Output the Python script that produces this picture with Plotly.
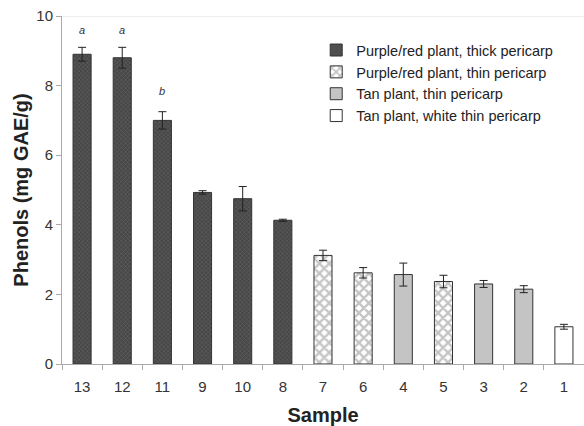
import plotly.graph_objects as go

samples = ["13", "12", "11", "9", "10", "8", "7", "6", "4", "5", "3", "2", "1"]
phenols = [8.9, 8.8, 7.0, 4.93, 4.75, 4.13, 3.12, 2.62, 2.57, 2.37, 2.3, 2.15, 1.07]
errors = [0.2, 0.3, 0.25, 0.05, 0.35, 0.03, 0.15, 0.15, 0.33, 0.18, 0.1, 0.1, 0.07]
groups = ["thick", "thick", "thick", "thick", "thick", "thick",
          "pthin", "pthin", "tan", "pthin", "tan", "tan", "white"]
sig_samples = ["13", "12", "11"]
sig_letters = ["a", "a", "b"]
sig_y = [9.6, 9.6, 7.85]

group_names = {
    "thick": "Purple/red plant, thick pericarp",
    "pthin": "Purple/red plant, thin pericarp",
    "tan": "Tan plant, thin pericarp",
    "white": "Tan plant, white thin pericarp",
}
group_styles = {
    "thick": dict(color="#474747", pattern=dict(shape="x", fgcolor="#858585", size=3, solidity=0.3)),
    "pthin": dict(color="white", pattern=dict(shape="x", fgcolor="#8a8a8a", bgcolor="white", size=7, solidity=0.55)),
    "tan": dict(color="#c4c4c4"),
    "white": dict(color="white"),
}

fig = go.Figure()
for g in ["thick", "pthin", "tan", "white"]:
    xs = [s for s, gg in zip(samples, groups) if gg == g]
    ys = [v for v, gg in zip(phenols, groups) if gg == g]
    es = [e for e, gg in zip(errors, groups) if gg == g]
    fig.add_trace(go.Bar(
        x=xs, y=ys, name=group_names[g], width=0.45,
        marker=dict(line=dict(color="#333333", width=1), **group_styles[g]),
        error_y=dict(type="data", array=es, color="#222222", thickness=1, width=4),
    ))

for s, t, y in zip(sig_samples, sig_letters, sig_y):
    fig.add_annotation(x=samples.index(s), y=y, text=f"<i>{t}</i>", showarrow=False,
                       font=dict(size=11, color="#333333"))

fig.add_shape(type="line", xref="paper", yref="y", x0=0, x1=1, y0=10, y1=10,
              line=dict(color="#dddddd", width=1))

fig.update_layout(
    width=584, height=426,
    margin=dict(l=62, r=0, t=16, b=62),
    plot_bgcolor="white", paper_bgcolor="white",
    barmode="overlay",
    font=dict(family="Liberation Sans, Arial", size=15, color="#333333"),
    showlegend=True,
    legend=dict(x=0.487, y=0.948, xanchor="left", yanchor="top",
                font=dict(size=14.5, color="#222222"), tracegroupgap=0,
                itemwidth=30, bgcolor="rgba(0,0,0,0)", traceorder="normal"),
    xaxis=dict(type="category", categoryorder="array", categoryarray=samples,
               title=dict(text="<b>Sample</b>", font=dict(size=20, color="#222222"), standoff=16),
               automargin=False, ticklabelstandoff=9,
               showline=True, linecolor="#aaaaaa", ticks="outside", tickson="boundaries",
               ticklen=5, tickcolor="#aaaaaa", tickfont=dict(size=15, color="#333333")),
    yaxis=dict(range=[0, 10], tickvals=[0, 2, 4, 6, 8, 10], showgrid=False, zeroline=False,
               title=dict(text="<b>Phenols (mg GAE/g)</b>", font=dict(size=20, color="#222222"), standoff=2),
               automargin=False,
               showline=True, linecolor="#aaaaaa", ticks="outside", ticklen=5, tickcolor="#aaaaaa",
               tickfont=dict(size=15, color="#333333")),
)

fig.write_html("out.html", config={"displayModeBar": False},
               post_script="document.body.style.margin='0';")
